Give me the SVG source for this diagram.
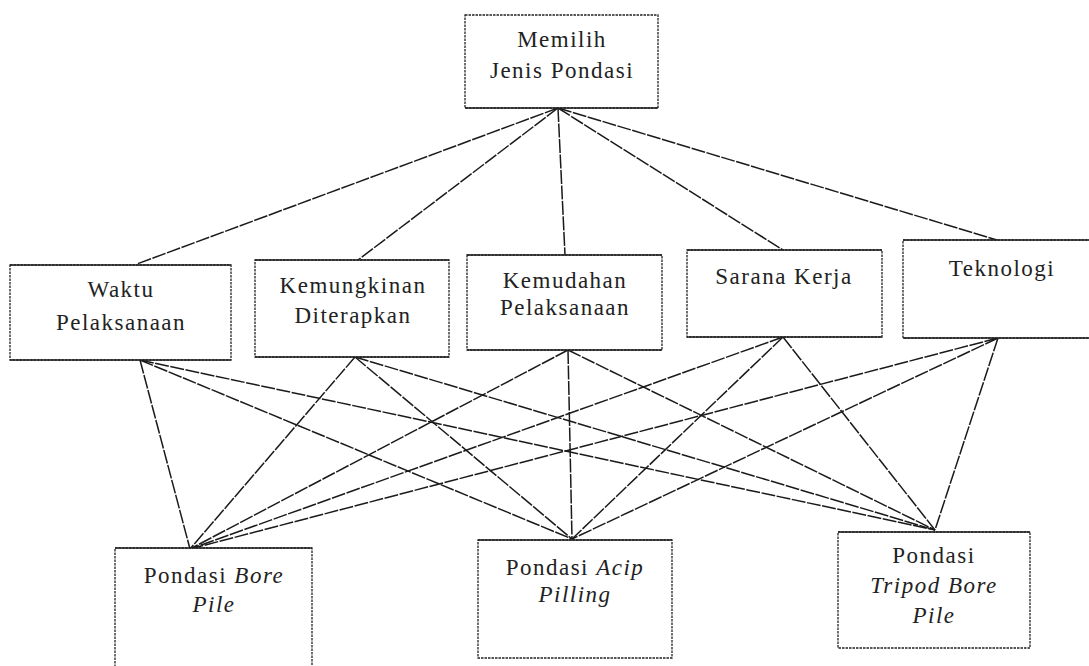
<svg xmlns="http://www.w3.org/2000/svg" width="1089" height="666" viewBox="0 0 1089 666">
<style>
.bg{fill:#ffffff}
.box{fill:#ffffff;stroke:#222;stroke-width:1.3;stroke-dasharray:2.5 1}
.edge{fill:none;stroke:#222;stroke-width:1.4}
.lbl{font-family:"Liberation Serif","Times New Roman",serif;font-size:23px;letter-spacing:1.5px;fill:#222;text-anchor:middle}
.it{font-style:italic}
.conn line{stroke:#1a1a1a;stroke-width:1.5;stroke-dasharray:14 1.5}
</style>
<rect class="bg" x="0" y="0" width="1089" height="666"/>
<g id="connectors" class="conn">
<line x1="558" y1="108" x2="137" y2="264"/>
<line x1="558" y1="108" x2="358" y2="260"/>
<line x1="558" y1="108" x2="565" y2="255"/>
<line x1="558" y1="108" x2="783" y2="250"/>
<line x1="558" y1="108" x2="997" y2="240"/>
<line x1="140" y1="360" x2="190" y2="549"/>
<line x1="140" y1="360" x2="572" y2="539"/>
<line x1="140" y1="360" x2="935" y2="530"/>
<line x1="355" y1="357" x2="190" y2="549"/>
<line x1="355" y1="357" x2="572" y2="539"/>
<line x1="355" y1="357" x2="935" y2="530"/>
<line x1="568" y1="350" x2="190" y2="549"/>
<line x1="568" y1="350" x2="572" y2="539"/>
<line x1="568" y1="350" x2="935" y2="530"/>
<line x1="783" y1="337" x2="190" y2="549"/>
<line x1="783" y1="337" x2="572" y2="539"/>
<line x1="783" y1="337" x2="935" y2="530"/>
<line x1="998" y1="338" x2="190" y2="549"/>
<line x1="998" y1="338" x2="572" y2="539"/>
<line x1="998" y1="338" x2="935" y2="530"/>
</g>
<g id="memilih">
<rect class="box" x="465" y="15" width="193" height="93"/>
<path class="edge" d="M465 108H658"/>
<text class="lbl" x="562" y="47">Memilih</text>
<text class="lbl" x="562" y="78">Jenis Pondasi</text>
</g>
<g id="waktu">
<rect class="box" x="10" y="265" width="221" height="95"/>
<path class="edge" d="M10 265H231M10 360H231"/>
<text class="lbl" x="121" y="297">Waktu</text>
<text class="lbl" x="121" y="330">Pelaksanaan</text>
</g>
<g id="kemungkinan">
<rect class="box" x="255" y="260" width="194" height="97"/>
<path class="edge" d="M255 260H449M255 357H449"/>
<text class="lbl" x="353" y="293">Kemungkinan</text>
<text class="lbl" x="353" y="323">Diterapkan</text>
</g>
<g id="kemudahan">
<rect class="box" x="467" y="255" width="195" height="95"/>
<path class="edge" d="M467 255H662M467 350H662"/>
<text class="lbl" x="565" y="288">Kemudahan</text>
<text class="lbl" x="565" y="315">Pelaksanaan</text>
</g>
<g id="sarana">
<rect class="box" x="687" y="250" width="195" height="87"/>
<path class="edge" d="M687 250H882M687 337H882"/>
<text class="lbl" x="784" y="284">Sarana Kerja</text>
</g>
<g id="teknologi">
<rect class="box" x="903" y="240" width="196" height="98"/>
<path class="edge" d="M903 240H1099M903 338H1099"/>
<text class="lbl" x="1002" y="276">Teknologi</text>
</g>
<g id="borepile">
<rect class="box" x="115" y="548" width="197" height="125"/>
<path class="edge" d="M115 548H312"/>
<text class="lbl" x="214" y="583">Pondasi <tspan class="it">Bore</tspan></text>
<text class="lbl it" x="214" y="612">Pile</text>
</g>
<g id="acip">
<rect class="box" x="478" y="540" width="194" height="118"/>
<path class="edge" d="M478 540H672"/>
<text class="lbl" x="575" y="575">Pondasi <tspan class="it">Acip</tspan></text>
<text class="lbl it" x="575" y="602">Pilling</text>
</g>
<g id="tripod">
<rect class="box" x="838" y="532" width="192" height="116"/>
<path class="edge" d="M838 532H1030"/>
<text class="lbl" x="934" y="563">Pondasi</text>
<text class="lbl it" x="934" y="593">Tripod Bore</text>
<text class="lbl it" x="934" y="623">Pile</text>
</g>
</svg>
